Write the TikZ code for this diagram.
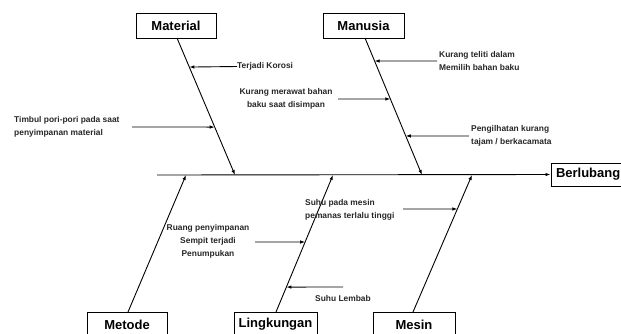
\documentclass[tikz,border=0pt]{standalone}
\usepackage{fontspec}
\setmainfont{Liberation Sans}
\usetikzlibrary{arrows.meta}
\begin{document}
\begin{tikzpicture}[x=1pt,y=-1pt,
  catbox/.style={draw,line width=1pt,minimum height=25pt,inner sep=0pt,font=\fontsize{13}{15}\selectfont\bfseries},
  lbl/.style={inner sep=0pt,font=\fontsize{8.4}{13}\selectfont\bfseries,align=left,text=black!85},
  lblc/.style={inner sep=0pt,font=\fontsize{8.4}{13}\selectfont\bfseries,align=center,text=black!85},
  bone/.style={line width=0.9pt,-{Latex[length=5pt,width=3.5pt]}},
  cause/.style={line width=0.9pt,-{Latex[length=5pt,width=3.5pt]}}]
\useasboundingbox (0,0) rectangle (621,333);
% category boxes
\node[catbox,minimum width=80pt] (mat) at (176,25.5) {Material};
\node[catbox,minimum width=81pt] (man) at (363.5,25.5) {Manusia};
\node[catbox,minimum width=80pt] (met) at (127,324.5) {Metode};
\node[catbox,minimum width=83pt] (lin) at (275.5,324.5) {Lingkungan};
\node[catbox,minimum width=82pt] (mes) at (414,324.5) {Mesin};
\node[catbox,minimum width=80pt,minimum height=23pt,text width=70pt,align=left,inner xsep=5pt] (ber) at (591,174.5) {Berlubang};
% spine
\coordinate (s0) at (157,175);
\draw[bone] (s0) -- (ber.west);
% bone end points on spine
\coordinate (mate) at (235,175);
\coordinate (mane) at (422,175);
\coordinate (mete) at (186,175);
\coordinate (line) at (333,175);
\coordinate (mese) at (472,175);
\coordinate (matt) at (177,38);
\coordinate (mant) at (365,38);
\coordinate (metb) at (128,312);
\coordinate (linb) at (276,312);
\coordinate (mesb) at (413,312);
\draw[bone] (matt) -- (mate);
\draw[bone] (mant) -- (mane);
\draw[bone] (metb) -- (mete);
\draw[bone] (linb) -- (line);
\draw[bone] (mesb) -- (mese);
% points on bones
\path (matt) -- (mate) coordinate[pos=0.212] (m1) coordinate[pos=0.650] (m2);
\path (mant) -- (mane) coordinate[pos=0.168] (h1) coordinate[pos=0.445] (h2) coordinate[pos=0.715] (h3);
\path (linb) -- (line) coordinate[pos=0.511] (l1) coordinate[pos=0.182] (l2);
\path (mesb) -- (mese) coordinate[pos=0.752] (e1);
% Material causes
\node[lbl,anchor=west] (t1) at (237,66.5) {Terjadi Korosi};
\draw[cause] (t1.west) -- (m1);
\node[lbl,anchor=west] (t2) at (14,126.5) {Timbul pori-pori pada saat\\penyimpanan material};
\coordinate (t2s) at (132,127);
\draw[cause] (t2s) -- (m2);
% Manusia causes
\node[lblc] (t3) at (286,99) {Kurang merawat bahan\\baku saat disimpan};
\coordinate (t3s) at (338,99);
\draw[cause] (t3s) -- (h2);
\node[lbl,anchor=west] (t4) at (439,61) {Kurang teliti dalam\\Memilih bahan baku};
\coordinate (t4s) at (437,61);
\draw[cause] (t4s) -- (h1);
\node[lbl,anchor=west] (t5) at (471,135.5) {Pengilhatan kurang\\tajam / berkacamata};
\coordinate (t5s) at (469,136);
\draw[cause] (t5s) -- (h3);
% Lingkungan causes
\node[lblc] (t6) at (208,241) {Ruang penyimpanan\\Sempit terjadi\\Penumpukan};
\coordinate (t6s) at (255,242);
\draw[cause] (t6s) -- (l1);
\node[lbl,anchor=west] (t7) at (315,298) {Suhu Lembab};
\coordinate (t7s) at (343,287);
\draw[cause] (t7s) -- (l2);
% Mesin causes
\node[lbl,anchor=west] (t8) at (305,209.5) {Suhu pada mesin\\pemanas terlalu tinggi};
\coordinate (t8s) at (403,209);
\draw[cause] (t8s) -- (e1);
\end{tikzpicture}
\end{document}
